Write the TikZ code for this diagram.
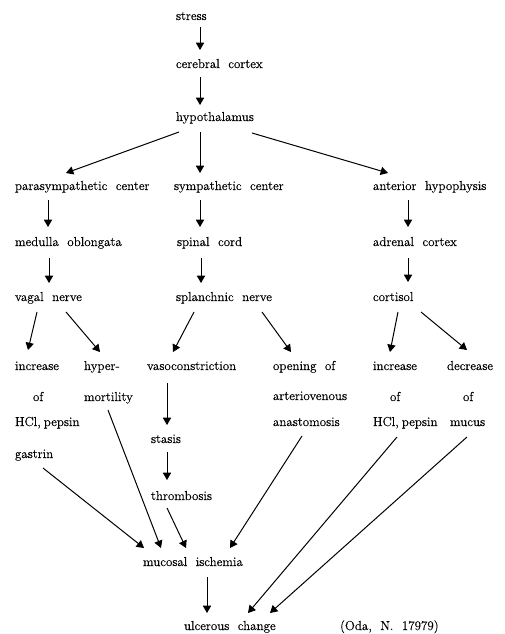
\documentclass[tikz,border=0pt]{standalone}
\usepackage{fontspec}
\usetikzlibrary{arrows}
\newfontfamily{\diagfamily}{Latin Modern Roman}[FakeBold=0.4]
\newcommand{\diagfont}{\diagfamily\fontsize{13}{15}\selectfont\spaceskip=8.5pt\relax}

\begin{document}
\begin{tikzpicture}[x = 1pt, y = -1pt, every node/.style = {anchor = west,
	inner sep = 0pt, outer sep = 0pt, text height = 9pt, text depth = 3pt,
	font = \diagfont}, line width = 1pt]

	\useasboundingbox (0, 0) rectangle (505, 634);

		\node (stress)   at (176,  17) {stress};
		\node (cortex)   at (176,  65) {cerebral cortex};
		\node (hyp)      at (176, 118) {hypothalamus};

		\node (para)     at ( 15, 187) {parasympathetic center};
		\node (symp)     at (174, 187) {sympathetic center};
		\node (ant)      at (373, 187) {anterior hypophysis};

		\node (medulla)  at ( 15, 243) {medulla oblongata};
		\node (spinal)   at (177, 243) {spinal cord};
		\node (adrenal)  at (373, 243) {adrenal cortex};

		\node (vagal)    at ( 15, 298) {vagal nerve};
		\node (splanch)  at (176, 298) {splanchnic nerve};
		\node (cortisol) at (373, 298) {cortisol};

		\node (incA)     at ( 15, 367) {increase};
		\node (ofA)      at ( 33, 398) {of};
		\node (hclA)     at ( 15, 423) {HCl,\hspace{3pt}pepsin};
		\node (gastrin)  at ( 15, 455) {gastrin};

		\node (hyper)    at ( 84, 367) {hyper-};
		\node (mort)     at ( 84, 398) {mortility};

		\node (vaso)     at (147, 367) {vasoconstriction};
		\node (stasis)   at (151, 440) {stasis};
		\node (thromb)   at (151, 497) {thrombosis};

		\node (opening)  at (273, 367) {opening of};
		\node (arterio)  at (273, 397) {arteriovenous};
		\node (anast)    at (273, 423) {anastomosis};

		\node (incB)     at (373, 367) {increase};
		\node (ofB)      at (390, 398) {of};
		\node (hclB)     at (373, 423) {HCl,\hspace{3pt}pepsin};

		\node (decr)     at (447, 367) {decrease};
		\node (ofC)      at (463, 398) {of};
		\node (mucus)    at (450, 423) {mucus};

		\node (ischemia) at (143, 563) {mucosal ischemia};
		\node (ulcer)    at (184, 627) {ulcerous change};
		\node (oda)      at (340, 627) {(Oda, N. 17979)};

		% top of the chain
		\draw [-triangle 60] ([shift={(24, 4)}]stress.south west) -- ([shift={(24, -9)}]cortex.north west);
		\draw [-triangle 60] ([shift={(24, 6)}]cortex.south west) -- ([shift={(24, -7)}]hyp.north west);
		\draw [-triangle 60] ([shift={(3, 8)}]hyp.south west) -- ([shift={(51, -8)}]para.north west);
		\draw [-triangle 60] ([shift={(24, 8)}]hyp.south west) -- ([shift={(26, -8)}]symp.north west);
		\draw [-triangle 60] ([shift={(76, 9)}]hyp.south west) -- ([shift={(15, -8)}]ant.north west);

		% three columns
		\draw [-triangle 60] ([shift={(33, 7)}]para.south west) -- ([shift={(33, -10)}]medulla.north west);
		\draw [-triangle 60] ([shift={(26, 7)}]symp.south west) -- ([shift={(23, -10)}]spinal.north west);
		\draw [-triangle 60] ([shift={(35, 7)}]ant.south west) -- ([shift={(35, -10)}]adrenal.north west);
		\draw [-triangle 60] ([shift={(34, 9)}]medulla.south west) -- ([shift={(34, -9)}]vagal.north west);
		\draw [-triangle 60] ([shift={(24, 9)}]spinal.south west) -- ([shift={(25, -9)}]splanch.north west);
		\draw [-triangle 60] ([shift={(35, 9)}]adrenal.south west) -- ([shift={(35, -10)}]cortisol.north west);

		\draw [-triangle 60] ([shift={(22, 8)}]vagal.south west) -- ([shift={(13, -11)}]incA.north west);
		\draw [-triangle 60] ([shift={(51, 8)}]vagal.south west) -- ([shift={(16, -9)}]hyper.north west);
		\draw [-triangle 60] ([shift={(18, 8)}]splanch.south west) -- ([shift={(26, -9)}]vaso.north west);
		\draw [-triangle 60] ([shift={(86, 8)}]splanch.south west) -- ([shift={(18, -9)}]opening.north west);
		\draw [-triangle 60] ([shift={(25, 8)}]cortisol.south west) -- ([shift={(17, -9)}]incB.north west);
		\draw [-triangle 60] ([shift={(48, 8)}]cortisol.south west) -- ([shift={(20, -11)}]decr.north west);

		\draw [-triangle 60] ([shift={(20, 10)}]vaso.south west) -- ([shift={(16, -9)}]stasis.north west);
		\draw [-triangle 60] ([shift={(16, 6)}]stasis.south west) -- ([shift={(16, -11)}]thromb.north west);

		% down to the ulcer
		\draw [-triangle 60] ([shift={(16, 5)}]thromb.south west) -- ([shift={(43, -9)}]ischemia.north west);
		\draw [-triangle 60] ([shift={(28, 7)}]gastrin.south west) -- ([shift={(1, -9)}]ischemia.north west);
		\draw [-triangle 60] ([shift={(24, 6)}]mort.south west) -- ([shift={(18, -9)}]ischemia.north west);
		\draw [-triangle 60] ([shift={(29, 7)}]anast.south west) -- ([shift={(87, -9)}]ischemia.north west);
		\draw [-triangle 60] ([shift={(64, 8)}]ischemia.south west) -- ([shift={(23, -8)}]ulcer.north west);
		\draw [-triangle 60] ([shift={(24, 8)}]hclB.south west) -- ([shift={(64, -8)}]ulcer.north west);
		\draw [-triangle 60] ([shift={(17, 8)}]mucus.south west) -- ([shift={(86, -8)}]ulcer.north west);

	\end{tikzpicture}
\end{document}
